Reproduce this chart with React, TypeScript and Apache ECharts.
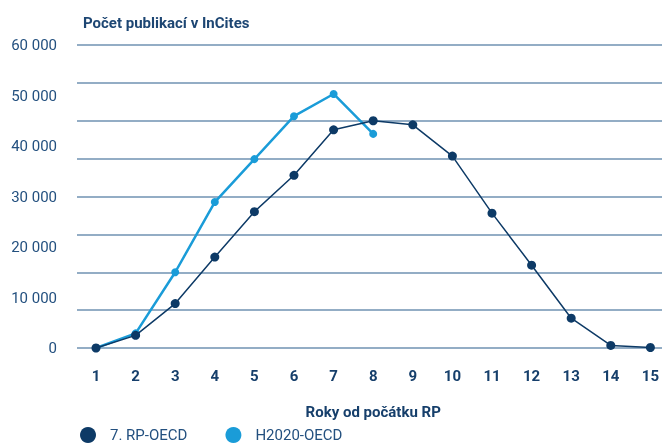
import React, { useEffect, useRef } from "react";
import * as echarts from "echarts";

const years = ["1", "2", "3", "4", "5", "6", "7", "8", "9", "10", "11", "12", "13", "14", "15"];
const rp7 = [0, 2500, 8800, 18000, 27000, 34200, 43200, 45000, 44200, 38000, 26700, 16400, 5900, 500, 100];
const h2020 = [0, 2900, 15000, 28900, 37400, 45900, 50300, 42400];
const yLabelTicks = [0, 10000, 20000, 30000, 40000, 50000, 60000];

const NAVY = "#0d3a66";
const LIGHT = "#1a9cd8";
const TEXT = "#23507f";

export default function App() {
  const ref = useRef<HTMLDivElement>(null);
  useEffect(() => {
    document.body.style.margin = "0";
    const chart = echarts.init(ref.current!, null, { renderer: "svg" });
    const font = "Roboto";
    chart.setOption({
      animation: false,
      textStyle: { fontFamily: font },
      title: {
        text: "Počet publikací v InCites",
        left: 78,
        top: 10,
        textStyle: { fontSize: 15, fontWeight: "bold", color: "#1d4673", fontFamily: font },
      },
      legend: {
        left: 80,
        top: 427,
        icon: "circle",
        itemWidth: 16,
        itemHeight: 16,
        itemGap: 38,
        padding: 0,
        textStyle: { fontSize: 15, color: TEXT, fontFamily: font, padding: [0, 0, 0, 9] },
        data: ["7. RP-OECD", "H2020-OECD"],
      },
      grid: [
        { left: 77, right: 0, top: 45, height: 303, containLabel: false },
        { left: 96, right: 11, top: 45, height: 303, containLabel: false },
      ],
      xAxis: [
        { type: "category", gridIndex: 0, data: years, show: false },
        {
          type: "category",
          gridIndex: 1,
          data: years,
          boundaryGap: false,
          axisLine: { show: false },
          axisTick: { show: false },
          splitLine: { show: false },
          axisLabel: { margin: 20, fontSize: 15, fontWeight: "bold", color: "#163f6b", fontFamily: font },
          name: "Roky od počátku RP",
          nameLocation: "middle",
          nameGap: 56,
          nameTextStyle: { fontSize: 15, fontWeight: "bold", color: "#163f6b", fontFamily: font },
        },
      ],
      yAxis: [
        {
          type: "value",
          gridIndex: 0,
          min: 0,
          max: 60000,
          interval: 10000,
          axisLine: { show: false },
          axisTick: { show: false },
          splitLine: { show: false },
          axisLabel: {
            margin: 20,
            fontSize: 15,
            color: TEXT,
            fontFamily: font,
            formatter: (v: number) =>
              yLabelTicks.includes(v) ? String(v).replace(/\B(?=(\d{3})+(?!\d))/g, " ") : "",
          },
        },
        {
          type: "value",
          gridIndex: 0,
          min: 0,
          max: 60000,
          interval: 7500,
          axisLine: { show: false },
          axisTick: { show: false },
          axisLabel: { show: false },
          splitLine: { show: true, lineStyle: { color: "#6f92b2", width: 1.5 } },
        },
        {
          type: "value",
          gridIndex: 1,
          min: 0,
          max: 60000,
          show: false,
          splitLine: { show: false },
        },
      ],
      series: [
        {
          name: "7. RP-OECD",
          type: "line",
          xAxisIndex: 1,
          yAxisIndex: 2,
          data: rp7,
          symbol: "circle",
          symbolSize: 9,
          lineStyle: { color: NAVY, width: 1.5 },
          itemStyle: { color: NAVY },
          z: 3,
        },
        {
          name: "H2020-OECD",
          type: "line",
          xAxisIndex: 1,
          yAxisIndex: 2,
          data: h2020,
          symbol: "circle",
          symbolSize: 8,
          lineStyle: { color: LIGHT, width: 2.5 },
          itemStyle: { color: LIGHT },
          z: 2,
        },
      ],
    });
    return () => chart.dispose();
  }, []);
  return <div ref={ref} style={{ position: "fixed", left: 0, top: 0, width: 662, height: 443 }} />;
}
